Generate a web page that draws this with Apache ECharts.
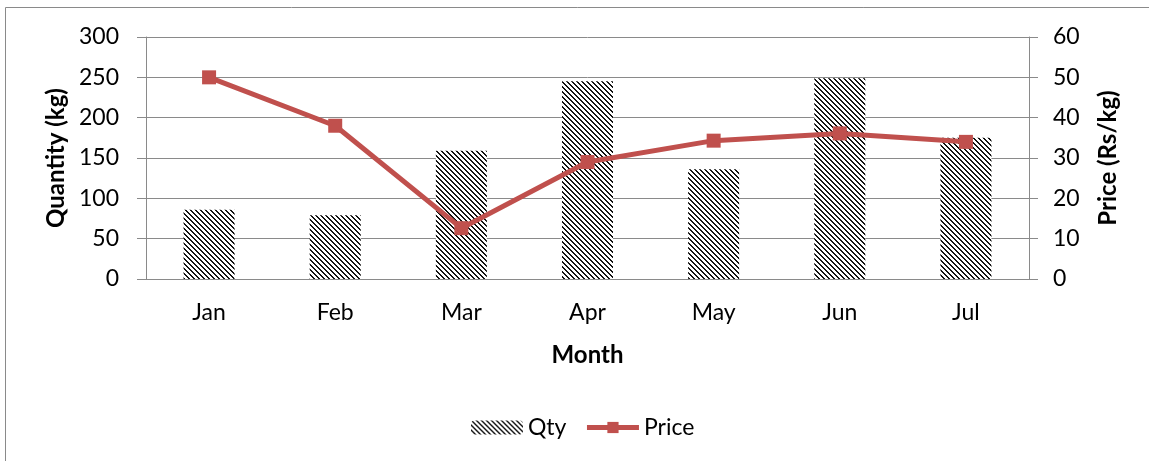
<!DOCTYPE html>
<html><head><meta charset="utf-8">
<script src="https://cdn.jsdelivr.net/npm/echarts@6/dist/echarts.min.js"></script>
<style>html,body{margin:0;padding:0;background:#fff}#c{width:1149px;height:461px}</style>
</head><body><div id="c"></div>
<script>
const months = ['Jan','Feb','Mar','Apr','May','Jun','Jul'];
const qty = [86, 79, 159, 245, 136, 249, 175];
const price = [50, 38, 12.6, 29, 34.3, 36.1, 34];
const qtyTicks = [0, 50, 100, 150, 200, 250, 300];
const priceTicks = [0, 10, 20, 30, 40, 50, 60];

function stripeTile(){
  const n = 5;
  const cv = document.createElement('canvas');
  cv.width = n; cv.height = n;
  const ctx = cv.getContext('2d');
  const img = ctx.createImageData(n, n);
  for (let y = 0; y < n; y++) for (let x = 0; x < n; x++) {
    const d = ((x - y) % n + n) % n;
    const v = d < 2 ? 20 : 255;
    const i = (y * n + x) * 4;
    img.data[i] = v; img.data[i+1] = v; img.data[i+2] = v; img.data[i+3] = 255;
  }
  ctx.putImageData(img, 0, 0);
  return cv;
}
const pattern = {image: stripeTile(), repeat: 'repeat'};
const FONT = 'Lato, "Open Sans", sans-serif';
const gridColor = '#8a8a8a';
const chart = echarts.init(document.getElementById('c'));
chart.setOption({
  animation: false,
  textStyle: {fontFamily: FONT, color: '#000'},
  graphic: [{type: 'rect', shape: {x: 5.5, y: 7.5, width: 1200, height: 600},
    style: {fill: 'none', stroke: '#8a8a8a', lineWidth: 1}, silent: true}],
  grid: {left: 146, right: 120, top: 37, bottom: 182},
  legend: {
    bottom: 17, left: 466, itemGap: 18, itemWidth: 52, itemHeight: 14,
    textStyle: {fontFamily: FONT, fontSize: 23, color: '#000'},
    lineStyle: {width: 5},
    data: [{name: 'Qty'}, {name: 'Price'}]
  },
  xAxis: {
    type: 'category', data: months,
    name: 'Month', nameLocation: 'middle', nameGap: 64,
    nameTextStyle: {fontFamily: FONT, fontSize: 24, fontWeight: 'bold', color: '#000'},
    axisLine: {lineStyle: {color: gridColor, width: 1}},
    axisTick: {length: 8, lineStyle: {color: gridColor}},
    axisLabel: {fontSize: 23, color: '#000', margin: 22, fontFamily: FONT}
  },
  yAxis: [{
    type: 'value', min: 0, max: 300, interval: 50,
    name: 'Quantity (kg)', nameLocation: 'middle', nameGap: 75,
    nameTextStyle: {fontFamily: FONT, fontSize: 24, fontWeight: 'bold', color: '#000'},
    axisLine: {show: true, lineStyle: {color: gridColor}},
    axisTick: {show: true, length: 9, lineStyle: {color: gridColor}},
    axisLabel: {fontSize: 23, color: '#000', margin: 27, fontFamily: FONT,
      formatter: v => qtyTicks.includes(v) ? String(v) : ''},
    splitLine: {lineStyle: {color: gridColor, width: 1}}
  }, {
    type: 'value', min: 0, max: 60, interval: 10, position: 'right',
    name: 'Price (Rs/kg)', nameLocation: 'middle', nameGap: 67, nameRotate: 90,
    nameTextStyle: {fontFamily: FONT, fontSize: 24, fontWeight: 'bold', color: '#000'},
    axisLine: {show: true, lineStyle: {color: gridColor}},
    axisTick: {show: true, length: 9, lineStyle: {color: gridColor}},
    axisLabel: {fontSize: 23, color: '#000', margin: 24, fontFamily: FONT,
      formatter: v => priceTicks.includes(v) ? String(v) : ''},
    splitLine: {show: false}
  }],
  series: [{
    name: 'Qty', type: 'bar', data: qty, yAxisIndex: 0,
    barWidth: 51,
    itemStyle: {color: pattern}
  }, {
    name: 'Price', type: 'line', data: price, yAxisIndex: 1,
    symbol: 'rect', symbolSize: 14,
    lineStyle: {color: '#C0504D', width: 5},
    itemStyle: {color: '#C0504D'}
  }]
});
</script></body></html>
